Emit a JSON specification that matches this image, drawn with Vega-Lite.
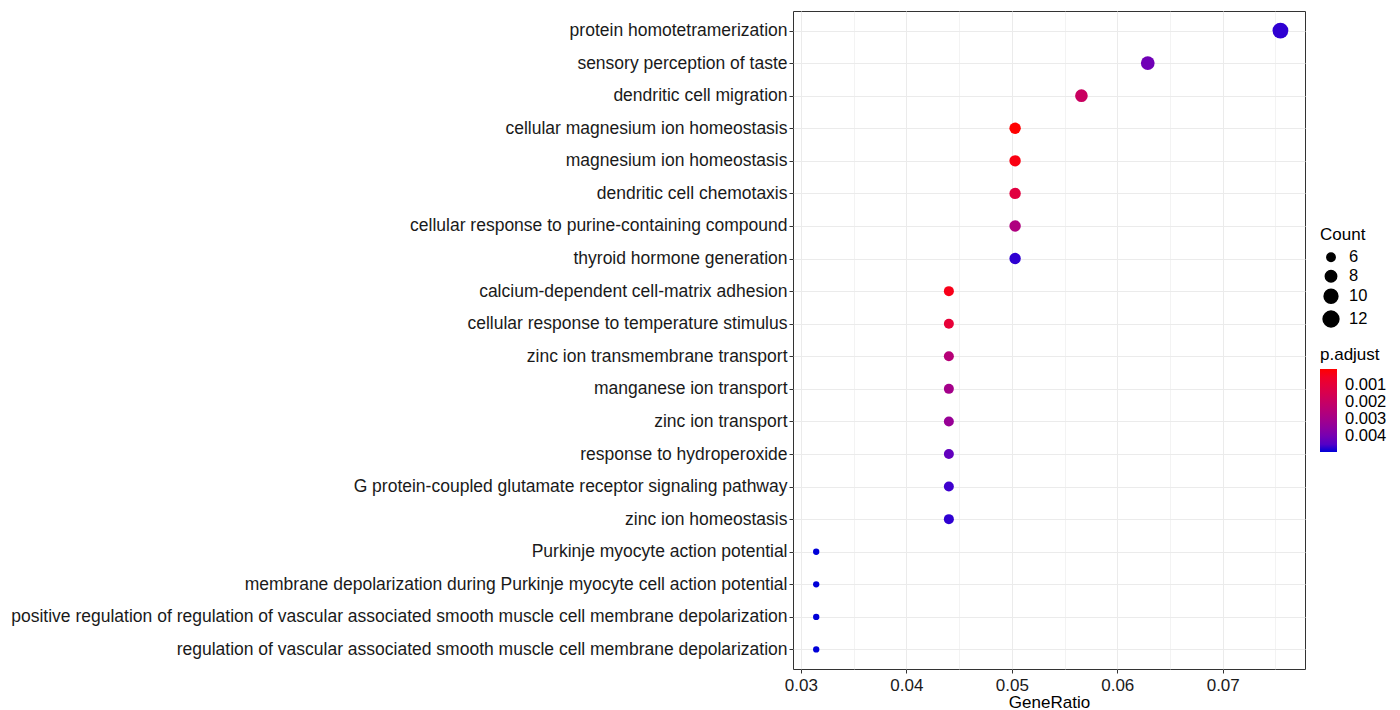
{
  "$schema": "https://vega.github.io/schema/vega-lite/v6.json",
  "width": 512,
  "height": 658,
  "autosize": {"type": "none"},
  "padding": {"left": 793, "top": 11, "right": 95, "bottom": 41},
  "data": {
    "values": [
      {"Description": "protein homotetramerization", "GeneRatio": 0.07547, "Count": 12, "padjust": 0.0048},
      {"Description": "sensory perception of taste", "GeneRatio": 0.06289, "Count": 10, "padjust": 0.0041},
      {"Description": "dendritic cell migration", "GeneRatio": 0.05660, "Count": 9, "padjust": 0.0019},
      {"Description": "cellular magnesium ion homeostasis", "GeneRatio": 0.05031, "Count": 8, "padjust": 0.00003},
      {"Description": "magnesium ion homeostasis", "GeneRatio": 0.05031, "Count": 8, "padjust": 0.0002},
      {"Description": "dendritic cell chemotaxis", "GeneRatio": 0.05031, "Count": 8, "padjust": 0.0011},
      {"Description": "cellular response to purine-containing compound", "GeneRatio": 0.05031, "Count": 8, "padjust": 0.0027},
      {"Description": "thyroid hormone generation", "GeneRatio": 0.05031, "Count": 8, "padjust": 0.0048},
      {"Description": "calcium-dependent cell-matrix adhesion", "GeneRatio": 0.04403, "Count": 7, "padjust": 0.0003},
      {"Description": "cellular response to temperature stimulus", "GeneRatio": 0.04403, "Count": 7, "padjust": 0.0009},
      {"Description": "zinc ion transmembrane transport", "GeneRatio": 0.04403, "Count": 7, "padjust": 0.0025},
      {"Description": "manganese ion transport", "GeneRatio": 0.04403, "Count": 7, "padjust": 0.0030},
      {"Description": "zinc ion transport", "GeneRatio": 0.04403, "Count": 7, "padjust": 0.0033},
      {"Description": "response to hydroperoxide", "GeneRatio": 0.04403, "Count": 7, "padjust": 0.0043},
      {"Description": "G protein-coupled glutamate receptor signaling pathway", "GeneRatio": 0.04403, "Count": 7, "padjust": 0.0047},
      {"Description": "zinc ion homeostasis", "GeneRatio": 0.04403, "Count": 7, "padjust": 0.0048},
      {"Description": "Purkinje myocyte action potential", "GeneRatio": 0.03145, "Count": 5, "padjust": 0.00495},
      {"Description": "membrane depolarization during Purkinje myocyte cell action potential", "GeneRatio": 0.03145, "Count": 5, "padjust": 0.00495},
      {"Description": "positive regulation of regulation of vascular associated smooth muscle cell membrane depolarization", "GeneRatio": 0.03145, "Count": 5, "padjust": 0.00495},
      {"Description": "regulation of vascular associated smooth muscle cell membrane depolarization", "GeneRatio": 0.03145, "Count": 5, "padjust": 0.00495}
    ]
  },
  "layer": [
    {
      "mark": {"type": "point", "opacity": 0},
      "encoding": {
        "x": {
          "field": "GeneRatio", "type": "quantitative",
          "scale": {"domain": [0.02925, 0.0778], "nice": false, "zero": false},
          "axis": {"values": [0.035, 0.045, 0.055, 0.065, 0.075], "grid": true, "gridColor": "#EBEBEB", "gridWidth": 0.6, "labels": false, "ticks": false, "domain": false, "title": null, "orient": "bottom"}
        },
        "y": {
          "field": "Description", "type": "nominal", "sort": null,
          "scale": {"type": "point", "padding": 0.6},
          "axis": {"title": null, "grid": true, "gridColor": "#EBEBEB", "domain": false, "tickColor": "#333333", "tickSize": 4, "labelFontSize": 17.5, "labelColor": "#1a1a1a", "labelLimit": 1000, "labelPadding": 2}
        }
      }
    },
    {
      "mark": {"type": "circle", "opacity": 1},
      "encoding": {
        "x": {
          "field": "GeneRatio", "type": "quantitative",
          "scale": {"domain": [0.02925, 0.0778], "nice": false, "zero": false},
          "axis": {"values": [0.03, 0.04, 0.05, 0.06, 0.07], "format": ".2f", "grid": true, "gridColor": "#EBEBEB", "gridWidth": 1, "domain": false, "tickColor": "#333333", "tickSize": 4, "labelFontSize": 17, "labelColor": "#1a1a1a", "labelPadding": 4, "title": "GeneRatio", "titleFontSize": 17, "titleFontWeight": "normal", "titleColor": "#000000", "titlePadding": 1, "orient": "bottom"}
        },
        "y": {
          "field": "Description", "type": "nominal", "sort": null,
          "scale": {"type": "point", "padding": 0.6},
          "axis": {"title": null, "grid": true, "gridColor": "#EBEBEB", "domain": false, "tickColor": "#333333", "tickSize": 4, "labelFontSize": 17.5, "labelColor": "#1a1a1a", "labelLimit": 1000, "labelPadding": 2}
        },
        "size": {
          "field": "Count", "type": "quantitative",
          "scale": {"domain": [5, 12], "range": [40, 250], "zero": false},
          "legend": {"title": "Count", "orient": "none", "legendX": 527, "legendY": 216, "values": [6, 8, 10, 12], "symbolType": "circle", "symbolFillColor": "#000000", "symbolStrokeColor": "#000000", "symbolOpacity": 1, "symbolOffset": 2, "labelOffset": 9, "titleFontSize": 17, "titleFontWeight": "normal", "titleColor": "#000000", "labelFontSize": 16.5, "labelColor": "#000000", "rowPadding": 1}
        },
        "color": {
          "field": "padjust", "type": "quantitative", "title": "p.adjust",
          "scale": {"domain": [0.00495, 0.00003], "range": ["#0000D8", "#FF0000"], "interpolate": "lab"},
          "legend": {"orient": "none", "legendX": 527, "legendY": 336, "values": [0.001, 0.002, 0.003, 0.004], "format": ".3f", "gradientLength": 83, "gradientThickness": 17, "gradientStrokeWidth": 0, "labelOffset": 8, "titleFontSize": 17, "titleFontWeight": "normal", "titleColor": "#000000", "labelFontSize": 16.5, "labelColor": "#000000", "direction": "vertical"}
        }
      }
    }
  ],
  "resolve": {"axis": {"x": "independent"}},
  "config": {
    "font": "Liberation Sans",
    "view": {"stroke": "#333333", "strokeWidth": 1}
  }
}
